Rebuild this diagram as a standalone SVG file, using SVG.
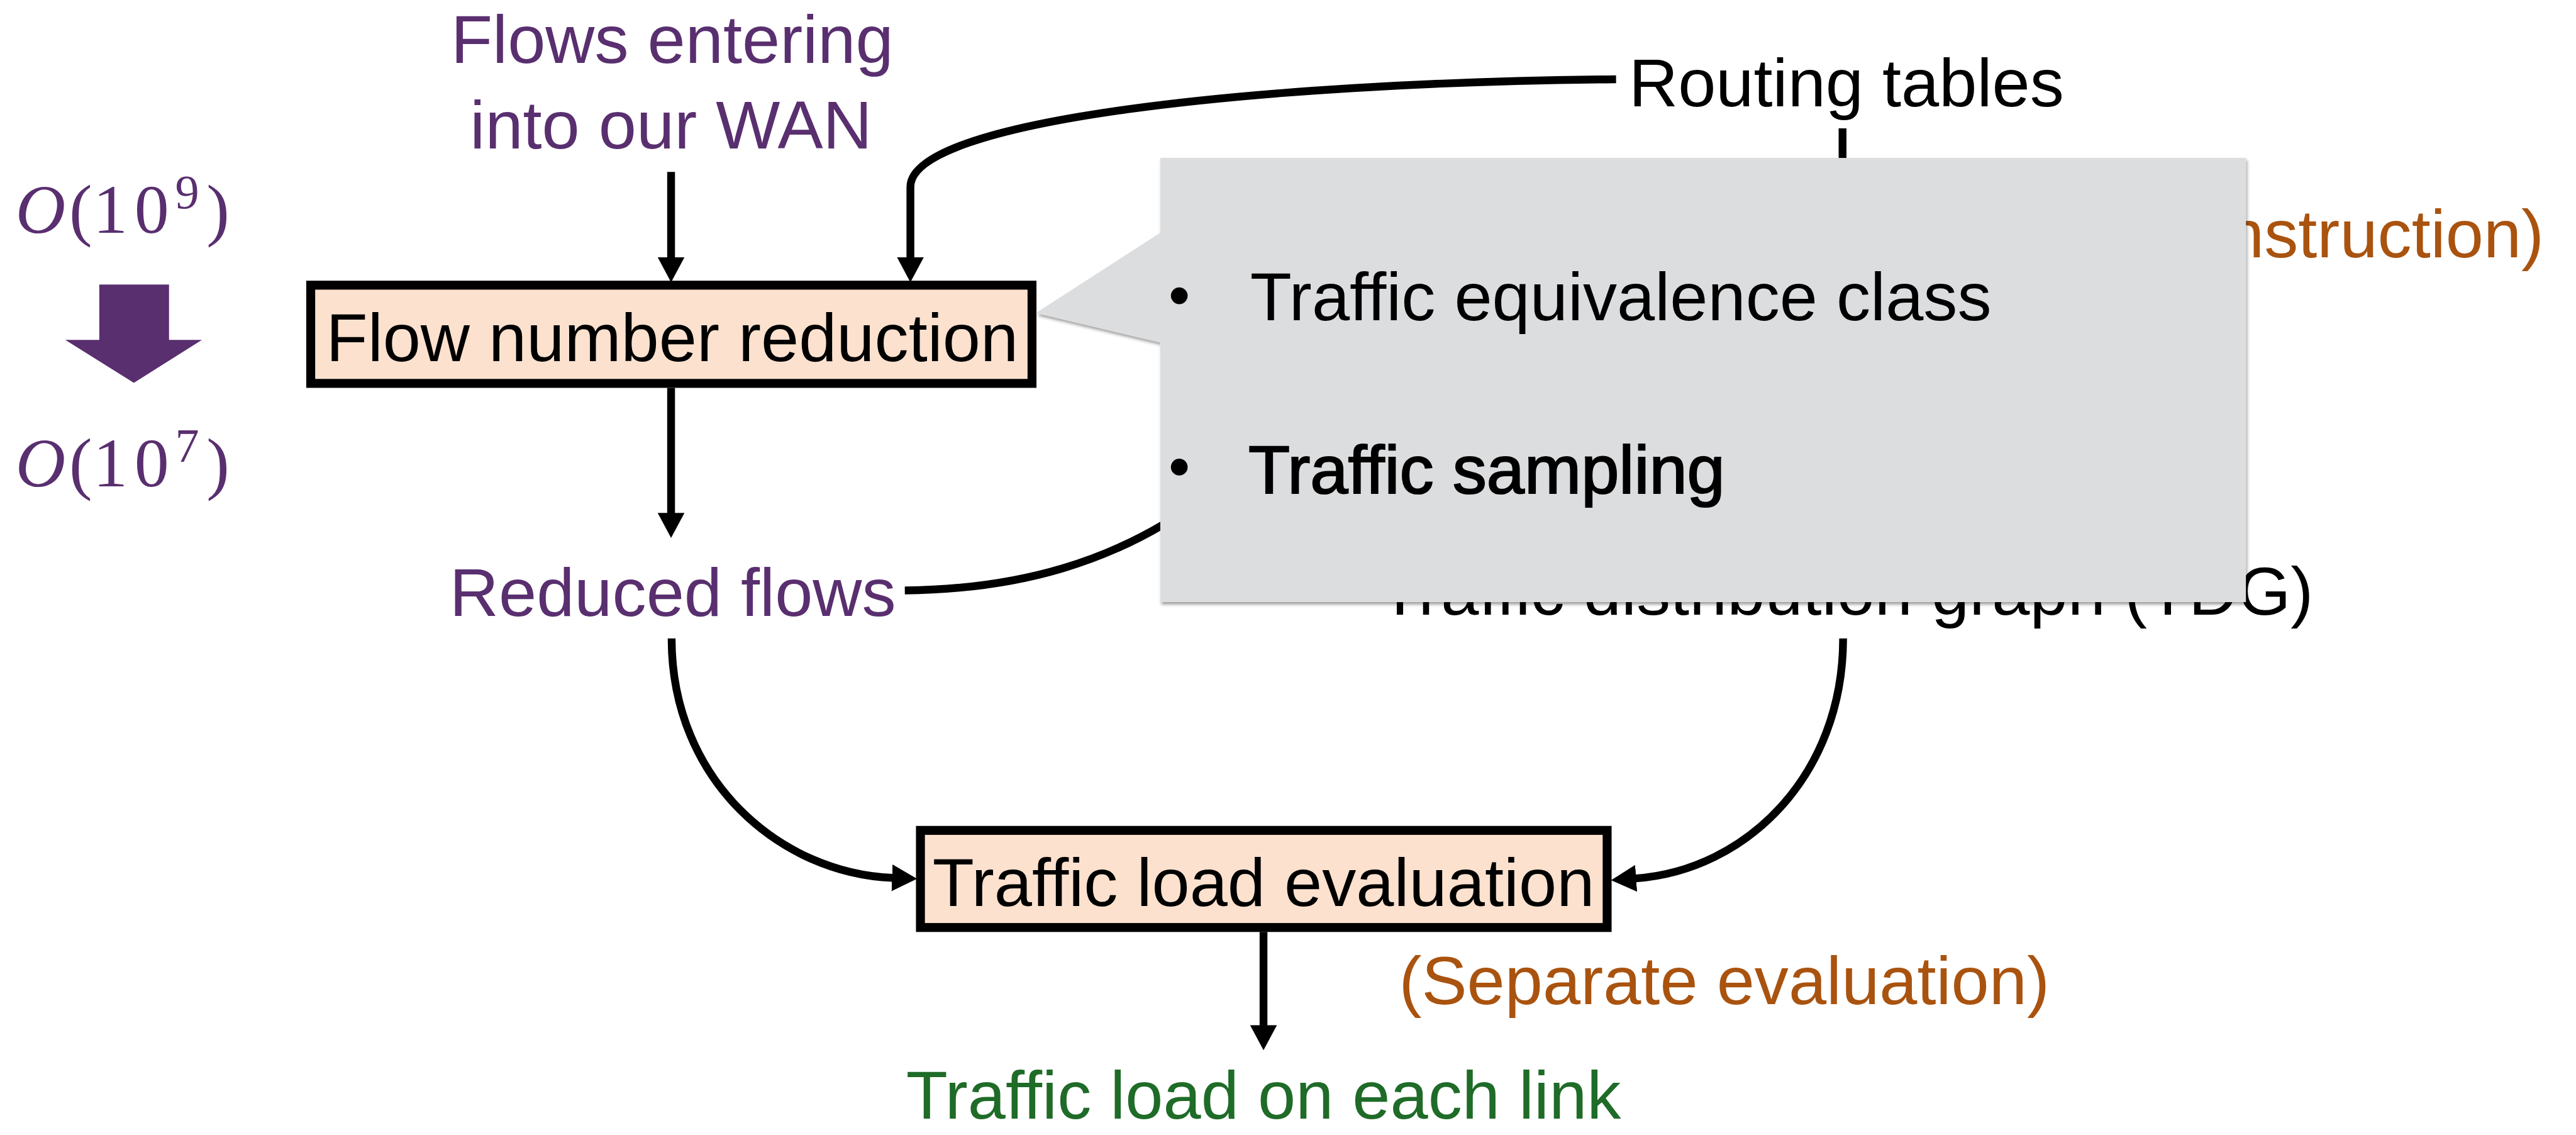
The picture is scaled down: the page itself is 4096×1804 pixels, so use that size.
<svg xmlns="http://www.w3.org/2000/svg" width="4096" height="1804" viewBox="0 0 4096 1804">
  <defs>
    <style>
      .t { font-family: "Liberation Sans", Arial, Helvetica, sans-serif; font-size: 122px; }
      .m { font-family: "Liberation Serif", "Times New Roman", serif; }
      .purple { fill: #592F6F; }
      .orange { fill: #A9530F; }
      .green { fill: #1F6B28; }
      .black { fill: #000000; }
      .conn { fill: none; stroke: #000000; stroke-width: 14; }
      .box { fill: #FBE1CE; stroke: #000000; stroke-width: 16; }
      .callout { fill: #DCDDDF; }
    </style>
    <marker id="head" markerUnits="userSpaceOnUse" viewBox="0 -25 46 50" markerWidth="46" markerHeight="50" refX="1" refY="0" orient="auto">
      <path d="M0,-24 L45,0 L0,24 Z" fill="#000000"/>
    </marker>
    <filter id="drop" x="-5%" y="-5%" width="110%" height="115%">
      <feDropShadow dx="2" dy="4" stdDeviation="3" flood-color="#000000" flood-opacity="0.4"/>
    </filter>
  </defs>

  <rect x="0" y="0" width="4096" height="1804" fill="#FFFFFF"/>

  <g transform="scale(0.887)">
    <!-- complexity annotation on the left -->
    <g id="complexity">
      <text class="m purple" x="28" y="417" font-size="124" font-style="italic">O</text>
      <text class="m purple" x="124" y="417" font-size="124">(</text>
      <text class="m purple" x="167" y="417" font-size="124">1</text>
      <text class="m purple" x="241" y="417" font-size="124">0</text>
      <text class="m purple" x="314" y="373" font-size="86">9</text>
      <text class="m purple" x="370" y="417" font-size="124">)</text>
      <polygon class="purple" points="178,510 303,510 303,609 362,609 240,686 117,609 178,609"/>
      <text class="m purple" x="28" y="872" font-size="124" font-style="italic">O</text>
      <text class="m purple" x="124" y="872" font-size="124">(</text>
      <text class="m purple" x="167" y="872" font-size="124">1</text>
      <text class="m purple" x="241" y="872" font-size="124">0</text>
      <text class="m purple" x="314" y="828" font-size="86">7</text>
      <text class="m purple" x="370" y="872" font-size="124">)</text>
    </g>

    <!-- plain labels -->
    <g id="flows-in">
      <text class="t purple" x="1205" y="113" text-anchor="middle">Flows entering</text>
      <text class="t purple" x="1203" y="266" text-anchor="middle">into our WAN</text>
    </g>
    <g id="routing-tables">
      <text class="t black" x="2920" y="190">Routing tables</text>
    </g>
    <g id="tdg-construction">
      <text class="t orange" x="3991" y="461">nstruction)</text>
    </g>
    <g id="tdg">
      <text class="t black" x="4147" y="1102" text-anchor="end">Traffic distribution graph (TDG)</text>
    </g>
    <g id="reduced-flows">
      <text class="t purple" x="1206" y="1104" text-anchor="middle">Reduced flows</text>
    </g>
    <g id="separate-eval">
      <text class="t orange" x="3091" y="1799" text-anchor="middle">(Separate evaluation)</text>
    </g>
    <g id="link-load">
      <text class="t green" x="2265" y="2004" text-anchor="middle">Traffic load on each link</text>
    </g>

    <!-- connectors -->
    <g id="connectors">
      <path class="conn" d="M1203,308 L1203,462" marker-end="url(#head)"/>
      <path class="conn" d="M2897,142 C2250,148 1632,215 1632,335 L1632,462" marker-end="url(#head)"/>
      <path class="conn" d="M3303,230 L3303,420"/>
      <path class="conn" d="M1203,695 L1203,920" marker-end="url(#head)"/>
      <path class="conn" d="M1622,1058 C1820,1056 2000,1010 2160,890"/>
      <path class="conn" d="M1204,1144 C1204,1400 1400,1565 1600,1573" marker-end="url(#head)"/>
      <path class="conn" d="M3304,1144 C3304,1390 3130,1560 2932,1574" marker-end="url(#head)"/>
      <path class="conn" d="M2265,1670 L2265,1838" marker-end="url(#head)"/>
    </g>

    <!-- process boxes -->
    <g id="flow-number-reduction">
      <rect class="box" x="557" y="511" width="1293" height="176"/>
      <text class="t black" x="1205" y="647" text-anchor="middle">Flow number reduction</text>
    </g>
    <g id="traffic-load-evaluation">
      <rect class="box" x="1650" y="1488" width="1231" height="174"/>
      <text class="t black" x="2265" y="1623" text-anchor="middle">Traffic load evaluation</text>
    </g>

    <!-- callout listing the reduction techniques -->
    <g id="reduction-callout">
      <path class="callout" filter="url(#drop)" d="M2080,283 L4026,283 L4026,1079 L2080,1079 L2080,614 L1857,561 L2080,417 Z"/>
      <circle cx="2114" cy="530" r="15" fill="#000000"/>
      <text class="t black" x="2241" y="574">Traffic equivalence class</text>
      <circle cx="2114" cy="837" r="15" fill="#000000"/>
      <text class="t black" x="2238" y="884" stroke="#000000" stroke-width="2.5">Traffic sampling</text>
    </g>
  </g>
</svg>
